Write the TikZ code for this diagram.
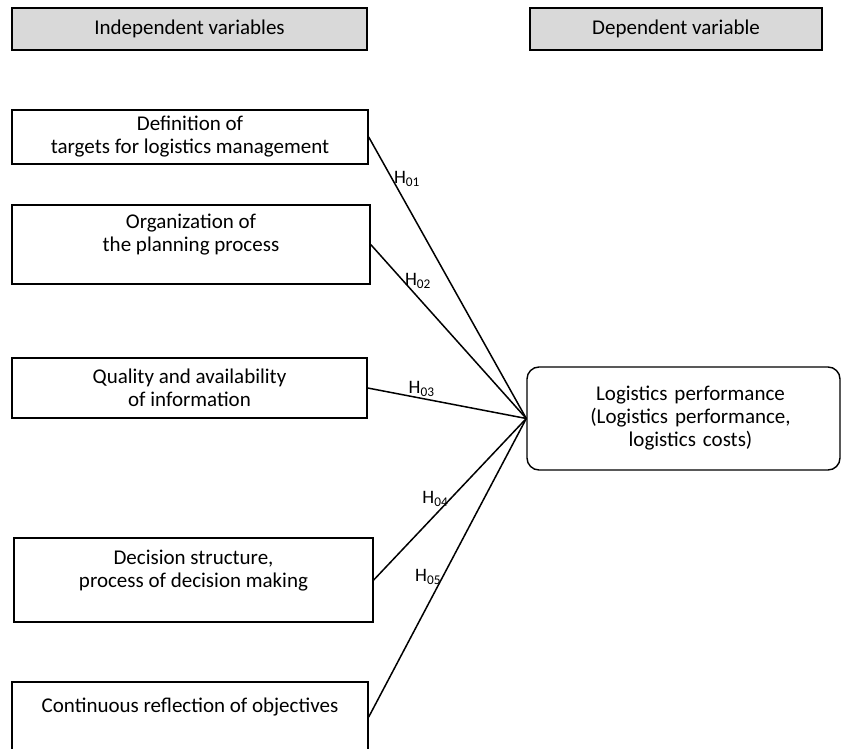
\documentclass[tikz,border=0pt]{standalone}
\usepackage{fontspec}
\setmainfont{Carlito}
\begin{document}
\begin{tikzpicture}[x=1pt, y=-1pt,
        testata/.style={draw, line width=1.4pt, fill=black!15, minimum height=42pt, inner sep=0pt, font=\fontsize{21}{23}\selectfont},
        variabile/.style={draw, line width=1.4pt, align=center, inner sep=0pt, font=\fontsize{21}{23}\selectfont},
        ipotesi/.style={font=\fontsize{19}{20}\selectfont, inner sep=1pt},
        legame/.style={line width=1.5pt}]
            \useasboundingbox (0,0) rectangle (843,749);

            % Intestazioni
            \node[testata, minimum width=355pt] (indip) at (189.5,29) {Independent variables};
            \node[testata, minimum width=292pt] (dip) at (676,29) {Dependent variable};

            % Variabili indipendenti
            \node[variabile, minimum width=356pt, minimum height=54pt] (obiettivi) at (190,137) {Definition of\\targets for logistics management};
            \node[variabile, minimum width=358pt, minimum height=79pt] (pianificazione) at (191,244.5) {Organization of\\the planning process\\ \mbox{}};
            \node[variabile, minimum width=355pt, minimum height=60pt] (informazione) at (189.5,388) {Quality and availability\\of information};
            \node[variabile, minimum width=359pt, minimum height=84pt] (decisione) at (193.5,580) {Decision structure,\\process of decision making\\ \mbox{}};
            \node[variabile, minimum width=356pt, minimum height=70pt] (riflessione) at (190,717) {Continuous reflection of objectives\\ \mbox{}};

            % Variabile dipendente
            \node[variabile, rounded corners=12pt, minimum width=313pt, minimum height=103pt, text width=313pt] (prestazione) at (683.5,418.5) {\hspace*{14pt}Logistics performance\\\hspace*{14pt}(Logistics performance,\\\hspace*{14pt}logistics costs)};

            % Ipotesi
            \draw[legame] (obiettivi.east) -- (prestazione.west) node[ipotesi, pos=0.15, right] {H\textsubscript{01}};
            \draw[legame] (pianificazione.east) -- (prestazione.west) node[ipotesi, pos=0.21, right] {H\textsubscript{02}};
            \draw[legame] (informazione.east) -- (prestazione.west) node[ipotesi, pos=0.34, above] {H\textsubscript{03}};
            \draw[legame] (decisione.east) -- (prestazione.west) node[ipotesi, pos=0.5, left] {H\textsubscript{04}};
            \draw[legame] (riflessione.east) -- (prestazione.west) node[ipotesi, pos=0.47, left] {H\textsubscript{05}};
        \end{tikzpicture}
\end{document}
